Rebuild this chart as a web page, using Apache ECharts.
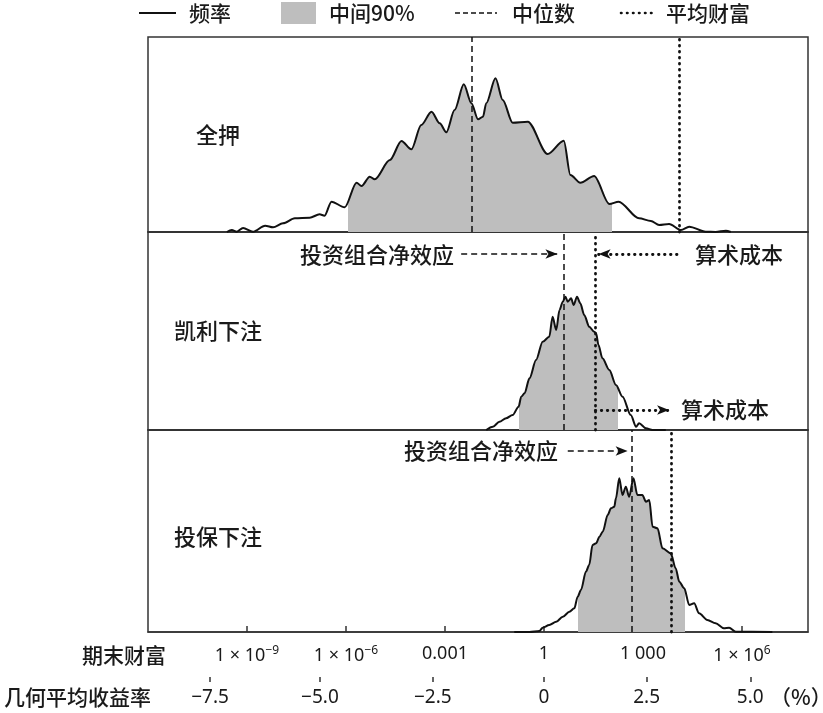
<!DOCTYPE html>
<html>
<head>
<meta charset="utf-8">
<script src="https://cdn.jsdelivr.net/npm/echarts@6/dist/echarts.min.js"></script>
<style>
  html, body { margin: 0; padding: 0; background: #fff; }
  #chart { width: 823px; height: 713px; }
</style>
</head>
<body>
<div id="chart"></div>
<script>
// x = log10(期末财富)，y = 频率（相对高度）
const topX = [-9.61, -9.46, -9.31, -9.12, -8.82, -8.45, -8.21, -7.91, -7.55, -7.10,
  -6.80, -6.65, -6.44, -6.04, -5.68, -5.53, -5.28, -5.13, -4.67, -4.32,
  -4.02, -3.72, -3.41, -3.16, -2.96, -2.71, -2.43, -2.20, -2.00, -1.85,
  -1.75, -1.47, -1.25, -0.95, -0.49, 0.11, 0.60, 0.80, 1.10, 1.52,
  1.98, 2.26, 2.88, 3.24, 3.49, 3.79, 4.15, 4.40, 4.90, 5.20, 5.51, 5.66]
const topY = [0, 2, 0.3, 4, 0.3, 6.3, 4.7, 8.7, 13.7, 14.3,
  17.7, 16.3, 30.3, 24.7, 49.3, 46, 55.3, 52.7, 72, 91,
  82.7, 107, 120.3, 108.7, 99.7, 122, 147.7, 128.7, 112.7, 115.3,
  128.7, 153.7, 132, 109.3, 110.3, 78, 91.3, 57, 49.3, 56,
  28, 30.3, 13.7, 11, 7, 8, 2, 5.3, 0.3, 0, 1.3, 0]

const midX = [-1.75, -1.55, -1.35, -1.15, -0.95, -0.77, -0.69, -0.59, -0.44, -0.24,
  -0.04, 0.16, 0.26, 0.37, 0.47, 0.57, 0.65, 0.72, 0.82, 0.90,
  1.00, 1.10, 1.22, 1.37, 1.52, 1.58, 1.65, 1.77, 1.98, 2.18,
  2.38, 2.63, 2.79, 2.88, 3.09, 3.29, 3.69]
const midY = [0, 3.3, 8.3, 11.7, 15, 23.3, 33.3, 36.7, 51.7, 70,
  88.3, 93.3, 113.3, 100, 120, 128.3, 133.3, 128.3, 131.7, 125,
  133.3, 126.7, 115, 103.3, 98.3, 96.7, 85, 71.7, 60, 45,
  33.3, 15, 3.3, 6.7, 1.7, 0, 0]

const botX = [-0.90, -0.44, -0.14, -0.04, 0.16, 0.37, 0.57, 0.77, 0.92, 1.02,
  1.12, 1.27, 1.37, 1.47, 1.58, 1.68, 1.78, 1.93, 2.03, 2.13,
  2.18, 2.28, 2.38, 2.48, 2.58, 2.71, 2.83, 2.98, 3.09, 3.19,
  3.29, 3.44, 3.59, 3.84, 3.99, 4.10, 4.25, 4.40, 4.55, 4.70,
  4.95, 5.20, 5.45, 5.61, 5.81, 6.92]
const botY = [0, 0, 1, 4.3, 7, 10.3, 15.3, 20.3, 23.7, 35.3,
  42, 60.3, 67, 87, 88.7, 95.3, 100.3, 117, 123.7, 125.3,
  133.7, 153.7, 137, 145.3, 135.3, 153.7, 137, 137, 130.3, 132,
  105.3, 103.7, 83.7, 78.7, 63.7, 50.3, 43.7, 27, 28.7, 18.7,
  12, 8.7, 3.7, 4.3, 0.3, 0]

const panelNames = ['全押', '凯利下注', '投保下注']
const medians = [-2.20, 0.587, 2.664]
const means = [4.09, 1.554, 3.874]
const band90 = [[-5.95, 2.05], [-0.765, 2.25], [1.03, 4.27]]

const wealthTicks = [-9, -6, -3, 0, 3, 6]
const wealthLabels = ['1 × 10{s|−9}', '1 × 10{s|−6}', '0.001', '1', '1 000', '1 × 10{s|6}']
const rateTicks = [-10.12, -6.79, -3.37, 0, 3.11, 6.25]
const rateLabels = ['−7.5', '−5.0', '−2.5', '0', '2.5', '5.0']

const X_MIN = -12, X_MAX = 8
const FONT = 'Noto Sans CJK SC'
const NUM_FONT = 'Noto Sans'
const INK = '#111'

// 三个面板的布局（像素）
const gridTops = [37, 232, 430]
const gridHeights = [195, 198, 202]

const curves = [[topX, topY], [midX, midY], [botX, botY]]
const nearest = (arr, v) => arr.reduce((b, a, i) => Math.abs(a - v) < Math.abs(arr[b] - v) ? i : b, 0)

const dashed = { color: INK, width: 1.5, type: [6, 4] }
const dotted = { color: INK, width: 2.8, type: [0.5, 5.5], cap: 'round' }
const arrowEnd = { symbol: 'arrow', symbolSize: [7, 12] }

// 标注箭头（数据坐标）
const arrows = [
  [],
  [
    [{ coord: [-2.51, 176], symbol: 'none', lineStyle: dashed }, { coord: [medians[1] - 0.18, 176], ...arrowEnd }],
    [{ coord: [4.03, 176], symbol: 'none', lineStyle: dotted }, { coord: [means[1] + 0.1, 176], ...arrowEnd }],
    [{ coord: [means[1], 20], symbol: 'none', lineStyle: dotted }, { coord: [3.79, 20], ...arrowEnd }]
  ],
  [
    [{ coord: [0.72, 181], symbol: 'none', lineStyle: dashed }, { coord: [medians[2] - 0.13, 181], ...arrowEnd }]
  ]
]

const xAxes = gridTops.map((t, i) => ({
  type: 'value', gridIndex: i, min: X_MIN, max: X_MAX,
  axisLine: { show: true, lineStyle: { color: '#333', width: 1.5 } },
  axisTick: i === 2
    ? { show: true, inside: true, length: 6, customValues: wealthTicks, lineStyle: { color: '#333', width: 1.5 } }
    : { show: false },
  axisLabel: i === 2
    ? {
        show: true, customValues: wealthTicks, margin: 13, fontSize: 18, color: '#1a1a1a', fontFamily: NUM_FONT,
        formatter: v => wealthLabels[nearest(wealthTicks, v)],
        rich: { s: { fontSize: 12, verticalAlign: 'top', padding: [0, 0, 9, 0], fontFamily: NUM_FONT, color: '#1a1a1a' } }
      }
    : { show: false },
  splitLine: { show: false }
}))
xAxes.push({
  type: 'value', gridIndex: 2, min: X_MIN, max: X_MAX, position: 'bottom', offset: 45,
  axisLine: { show: true, lineStyle: { color: 'rgba(0,0,0,0)' } },
  axisTick: { show: true, length: 5, customValues: rateTicks, lineStyle: { color: '#333', width: 1.5 } },
  axisLabel: {
    show: true, customValues: rateTicks, margin: 11, fontSize: 19, color: '#1a1a1a', fontFamily: NUM_FONT,
    formatter: v => rateLabels[nearest(rateTicks, v)]
  },
  splitLine: { show: false }
})

const txt = (text, x, y, align, size, family) => ({
  type: 'text', x, y, silent: true,
  style: {
    text, fill: '#1a1a1a', fontSize: size || 20, fontWeight: 500, fontFamily: family || FONT,
    align: align || 'left', verticalAlign: 'middle'
  }
})

const option = {
  animation: false,
  textStyle: { fontFamily: FONT },
  grid: gridTops.map((t, i) => ({
    left: 148, width: 660, top: t, height: gridHeights[i],
    show: true, borderColor: '#333', borderWidth: 1.5, backgroundColor: 'transparent'
  })),
  xAxis: xAxes,
  yAxis: gridHeights.map((h, i) => ({ type: 'value', gridIndex: i, min: 0, max: h, show: false })),
  visualMap: band90.map((b, i) => ({
    type: 'piecewise', show: false, seriesIndex: i, dimension: 0,
    pieces: [{ gte: b[0], lte: b[1], color: '#bebebe' }],
    outOfRange: { color: 'rgba(0,0,0,0)' }
  })),
  series: curves.map((c, i) => ({
    type: 'line', name: panelNames[i], xAxisIndex: i, yAxisIndex: i,
    data: c[0].map((x, k) => [x, c[1][k]]),
    smooth: 0.3, smoothMonotone: 'x', symbol: 'none', silent: true,
    lineStyle: { color: INK, width: 2 },
    areaStyle: { opacity: 1 },
    markLine: {
      silent: true, symbol: 'none', label: { show: false },
      data: [
        { xAxis: medians[i], lineStyle: dashed },
        { xAxis: means[i], lineStyle: dotted },
        ...arrows[i]
      ]
    }
  })),
  graphic: [
    // 图例
    { type: 'line', silent: true, shape: { x1: 139, y1: 13, x2: 176, y2: 13 }, style: { stroke: INK, lineWidth: 1.8 } },
    txt('频率', 189, 13, 'left', 21),
    { type: 'rect', silent: true, shape: { x: 281, y: 2, width: 35, height: 22 }, style: { fill: '#bebebe' } },
    txt('中间90%', 329, 13, 'left', 21),
    { type: 'line', silent: true, shape: { x1: 455, y1: 13, x2: 497, y2: 13 }, style: { stroke: INK, lineWidth: 1.5, lineDash: [5, 3] } },
    txt('中位数', 512, 13, 'left', 21),
    { type: 'line', silent: true, shape: { x1: 621, y1: 13, x2: 655, y2: 13 }, style: { stroke: INK, lineWidth: 2.6, lineDash: [0.5, 5.5], lineCap: 'round' } },
    txt('平均财富', 666, 13, 'left', 21),
    // 面板名称
    txt(panelNames[0], 196, 135, 'left', 22),
    txt(panelNames[1], 174, 331, 'left', 22),
    txt(panelNames[2], 174, 537, 'left', 22),
    // 标注
    txt('投资组合净效应', 454, 255, 'right', 22),
    txt('算术成本', 695, 255, 'left', 22),
    txt('算术成本', 681, 410, 'left', 22),
    txt('投资组合净效应', 558, 451, 'right', 22),
    // 坐标轴标题
    txt('期末财富', 166, 655, 'right', 21),
    txt('几何平均收益率', 151, 697, 'right', 21),
    txt('（%）', 770, 697, 'left', 21)
  ]
}

const chart = echarts.init(document.getElementById('chart'))
chart.setOption(option)
</script>
</body>
</html>
